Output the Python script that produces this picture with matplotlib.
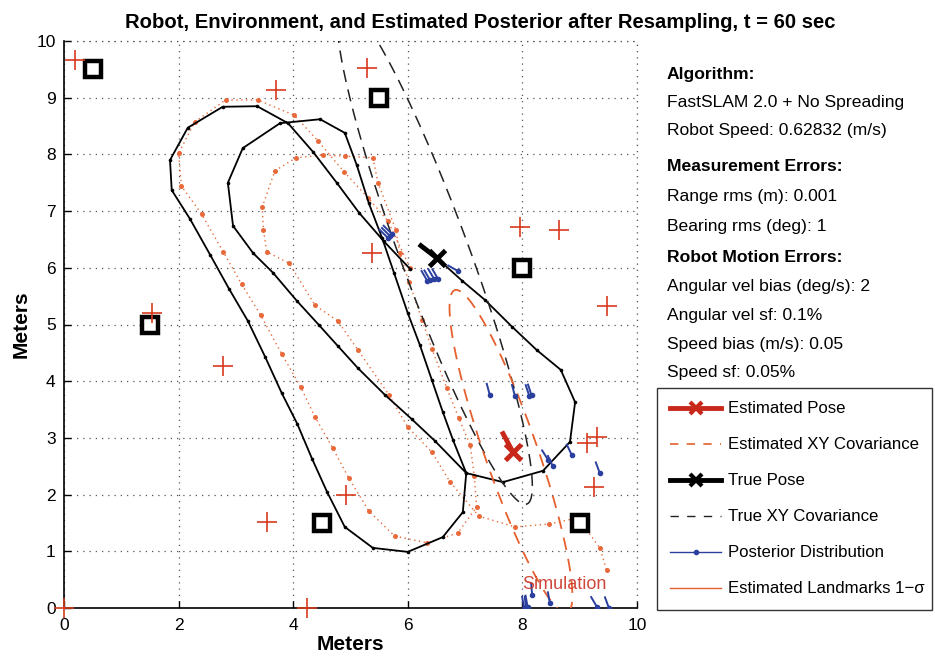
import numpy as np
import matplotlib
matplotlib.use("Agg")
import matplotlib.pyplot as plt
from matplotlib.lines import Line2D

plt.rcParams['font.family'] = ['Liberation Sans', 'DejaVu Sans']

# ---------------- data ----------------
# true landmark positions (m)
landmark_x = [0.5, 5.5, 1.5, 8.0, 4.5, 9.0]
landmark_y = [9.5, 9.0, 5.0, 6.0, 1.5, 1.5]

# estimated landmark means (m)
est_lm_x = [0.19, 5.29, 3.70, 1.53, 2.77, 5.38, 7.96, 8.64, 9.47, 9.13, 9.30, 9.25, 4.93, 3.55, 4.24, 0.00]
est_lm_y = [9.66, 9.52, 9.14, 5.20, 4.27, 6.26, 6.72, 6.67, 5.32, 2.91, 3.02, 2.13, 2.00, 1.52, 0.00, 0.00]

# true robot path, one sample per second (m)
true_path_x = [6.04, 5.58, 5.15, 4.76, 4.35, 3.91, 3.37, 2.77, 2.16, 1.85, 1.88, 2.20, 2.55, 2.88,
               3.21, 3.51, 3.80, 4.07, 4.33, 4.59, 4.90, 5.39, 6.00, 6.61, 6.96, 7.02,
               6.79, 6.61, 6.42, 6.21, 6.00, 5.76, 5.55, 5.32, 5.11, 4.90, 4.47, 3.77, 3.12,
               2.86, 2.95, 3.30, 3.65, 4.07, 4.45, 4.78, 5.13, 5.60, 6.07, 6.47, 7.02,
               7.66, 8.36, 8.83, 8.92, 8.67, 8.25, 7.82, 7.35, 6.95, 6.51]
true_path_y = [5.98, 6.47, 6.97, 7.50, 8.04, 8.55, 8.85, 8.84, 8.47, 7.90, 7.37, 6.86, 6.23, 5.63,
               5.06, 4.43, 3.79, 3.25, 2.63, 2.05, 1.43, 1.06, 0.99, 1.25, 1.69, 2.38,
               2.96, 3.46, 4.02, 4.64, 5.20, 5.91, 6.53, 7.14, 7.81, 8.38, 8.62, 8.55, 8.11,
               7.50, 6.74, 6.26, 5.91, 5.41, 4.99, 4.62, 4.23, 3.76, 3.33, 2.95, 2.38,
               2.22, 2.42, 2.93, 3.63, 4.20, 4.55, 4.96, 5.43, 5.77, 6.17]

# estimated robot path (m)
est_path_x = [6.04, 5.65, 5.31, 4.89, 4.43, 4.02, 3.38, 2.82, 2.28, 2.00, 2.05, 2.40, 2.78, 3.10,
              3.43, 3.80, 4.13, 4.38, 4.69, 4.97, 5.32, 5.77, 6.33, 6.87, 7.20, 7.16,
              7.09, 6.89, 6.68, 6.42, 6.25, 6.02, 5.86, 5.79, 5.48, 5.39, 4.90, 4.52, 4.05,
              3.68, 3.46, 3.48, 3.54, 3.93, 4.38, 4.78, 5.13, 5.67, 6.00, 6.42, 6.74, 7.24,
              7.87, 8.46, 8.97, 9.35, 9.47]
est_path_y = [6.00, 6.83, 7.23, 7.69, 8.24, 8.69, 8.96, 8.96, 8.57, 8.02, 7.44, 6.95, 6.28, 5.71,
              5.17, 4.48, 3.90, 3.37, 2.82, 2.29, 1.71, 1.27, 1.15, 1.32, 1.78, 2.33,
              2.87, 3.35, 3.88, 4.57, 5.08, 5.75, 6.26, 6.67, 7.50, 7.94, 7.97, 7.99, 7.94,
              7.71, 7.07, 6.67, 6.28, 6.08, 5.34, 5.06, 4.55, 3.76, 3.19, 2.75, 2.22, 1.62,
              1.43, 1.48, 1.59, 1.06, 0.67]

# poses: x, y (m), heading (deg)
true_pose = [6.51, 6.17, 142.0]
est_pose = [7.83, 2.76, 118.0]

# XY covariance ellipses: centre x, centre y, semi-major, semi-minor, angle (deg)
true_cov = [6.47, 6.25, 4.70, 0.60, -70.0]
est_cov = [7.80, 2.76, 3.01, 0.46, -71.0]

# particle poses after resampling: x, y (m), heading (deg)
part_x = [5.69, 5.72, 5.65, 6.34, 6.39, 6.46, 6.53, 6.88, 7.43, 7.87, 8.12, 8.16,
          8.45, 8.53, 8.86, 9.35, 8.03, 8.06, 8.09, 8.17, 8.48, 9.30, 9.51]
part_y = [6.56, 6.60, 6.53, 5.77, 5.78, 5.80, 5.80, 5.94, 3.76, 3.74, 3.74, 3.75,
          2.61, 2.50, 2.70, 2.38, 0.00, 0.00, 0.02, 0.23, 0.08, 0.02, 0.00]
part_h = [135, 135, 135, 120, 120, 120, 120, 150, 105, 105, 108, 108,
          122, 115, 115, 110, 100, 95, 100, 95, 100, 120, 110]

x_ticks = [0, 2, 4, 6, 8, 10]
y_ticks = list(range(0, 11))

info_lines = [
    ("Algorithm:", True),
    ("FastSLAM 2.0 + No Spreading", False),
    ("Robot Speed: 0.62832 (m/s)", False),
    ("Measurement Errors:", True),
    ("Range rms (m): 0.001", False),
    ("Bearing rms (deg): 1", False),
    ("Robot Motion Errors:", True),
    ("Angular vel bias (deg/s): 2", False),
    ("Angular vel sf: 0.1%", False),
    ("Speed bias (m/s): 0.05", False),
    ("Speed sf: 0.05%", False),
]
info_y_px = [74, 102, 130, 166, 196, 226, 257, 286, 315, 344, 373]

# ---------------- styling ----------------
RED = '#c8281a'
CROSS = '#d83a1e'
ORANGE = '#e5602e'
ORANGE_DOT = '#e86a3a'
BLUE = '#2a3f9e'
GRID = '#555555'

W, H = 935, 658
fig = plt.figure(figsize=(W / 100, H / 100), dpi=100)
ax = fig.add_axes([64 / W, 1 - 608 / H, (637 - 64) / W, (608 - 41) / H])
ax.set_xlim(0, 10)
ax.set_ylim(0, 10)
ax.set_xticks(x_ticks)
ax.set_yticks(y_ticks)
ax.tick_params(direction='in', length=5, width=1, labelsize=12.5)
ax.tick_params(axis='x', pad=7)
ax.tick_params(axis='y', pad=6)
for s in ['top', 'right']:
    ax.spines[s].set_visible(False)
for s in ['left', 'bottom']:
    ax.spines[s].set_linewidth(1.2)
ax.grid(True, color=GRID, linestyle=(0, (1, 4)), linewidth=0.9)
ax.set_axisbelow(True)
# dotted frame lines on the open sides
ax.axhline(10, color=GRID, linestyle=(0, (1, 4)), linewidth=0.9, clip_on=False)
ax.axvline(10, color=GRID, linestyle=(0, (1, 4)), linewidth=0.9, clip_on=False)

ax.set_xlabel('Meters', fontsize=15, fontweight='bold', labelpad=2)
ax.set_ylabel('Meters', fontsize=15, fontweight='bold', labelpad=4)
ax.set_title('Robot, Environment, and Estimated Posterior after Resampling, t = 60 sec',
             fontsize=14.6, fontweight='bold', pad=9, x=0.726)


def ellipse_xy(params, n=240):
    cx, cy, a, b, ang = params
    t = np.linspace(0, 2 * np.pi, n)
    th = np.deg2rad(ang)
    x = cx + a * np.cos(t) * np.cos(th) - b * np.sin(t) * np.sin(th)
    y = cy + a * np.cos(t) * np.sin(th) + b * np.sin(t) * np.cos(th)
    return x, y


# estimated path: dotted line with a dot every second
ax.plot(est_path_x, est_path_y, color=ORANGE_DOT, linestyle=(0, (1, 2.5)), linewidth=1.0,
        marker='o', markersize=3.6, markeredgewidth=0, zorder=3)

# true path
ax.plot(true_path_x, true_path_y, color='black', linewidth=1.3, marker='o',
        markersize=2.6, markeredgewidth=0, zorder=4)

# covariance ellipses
ex, ey = ellipse_xy(true_cov)
ax.plot(ex, ey, color='#222222', linestyle=(0, (8, 5)), linewidth=1.1, zorder=4)
ex, ey = ellipse_xy(est_cov)
ax.plot(ex, ey, color=ORANGE, linestyle=(0, (7, 5)), linewidth=1.3, zorder=4)

# landmarks
ax.plot(landmark_x, landmark_y, linestyle='none', marker='s', markersize=11,
        markerfacecolor='white', markeredgecolor='black', markeredgewidth=3.2, zorder=6)
ax.plot(est_lm_x, est_lm_y, linestyle='none', marker='+', markersize=14,
        color=CROSS, markeredgewidth=1.2, zorder=6, clip_on=False)

# particles
PL = 0.2
for x, y, h in zip(part_x, part_y, part_h):
    hr = np.deg2rad(h)
    ax.plot([x, x + PL * np.cos(hr)], [y, y + PL * np.sin(hr)], color=BLUE,
            linewidth=1.4, marker='o', markevery=[0], markersize=3, zorder=5)

# poses
HL = 0.4
for pose, col in [(true_pose, 'black'), (est_pose, RED)]:
    x, y, h = pose
    hr = np.deg2rad(h)
    ax.plot([x, x + HL * np.cos(hr)], [y, y + HL * np.sin(hr)], color=col,
            linewidth=3.5, solid_capstyle='butt', zorder=7)
    ax.plot([x], [y], marker='x', color=col, markersize=11, markeredgewidth=3.5, zorder=7)

ax.text(8.74, 0.41, 'Simulation', color=RED, alpha=0.85, fontsize=13,
        ha='center', va='center', zorder=8)

# info panel
for (txt, bold), ypx in zip(info_lines, info_y_px):
    fig.text(667 / W, 1 - ypx / H, txt, fontsize=12.6, fontweight='bold' if bold else 'normal',
             ha='left', va='center')

# legend
handles = [
    Line2D([], [], color=RED, linewidth=3.5, marker='x', markersize=9, markeredgewidth=3),
    Line2D([], [], color=ORANGE, linewidth=1.2, linestyle=(0, (5, 5))),
    Line2D([], [], color='black', linewidth=3.5, marker='x', markersize=9, markeredgewidth=3),
    Line2D([], [], color='#222222', linewidth=1.0, linestyle=(0, (6, 6))),
    Line2D([], [], color=BLUE, linewidth=1.0, marker='o', markersize=3),
    Line2D([], [], color=ORANGE, linewidth=1.0),
]
labels = ['Estimated Pose', 'Estimated XY Covariance', 'True Pose', 'True XY Covariance',
          'Posterior Distribution', 'Estimated Landmarks 1\u2212\u03c3']
leg = fig.legend(handles, labels, loc='upper left',
                 bbox_to_anchor=(657 / W, 1 - 610 / H, 275 / W, 222 / H), mode='expand',
                 fontsize=12.1, frameon=True, fancybox=False, edgecolor='black',
                 handlelength=3.0, handletextpad=0.45, labelspacing=1.25, borderpad=0.8,
                 borderaxespad=0, numpoints=1)
leg.get_frame().set_linewidth(1.0)

fig.savefig('out.png', dpi=100)
